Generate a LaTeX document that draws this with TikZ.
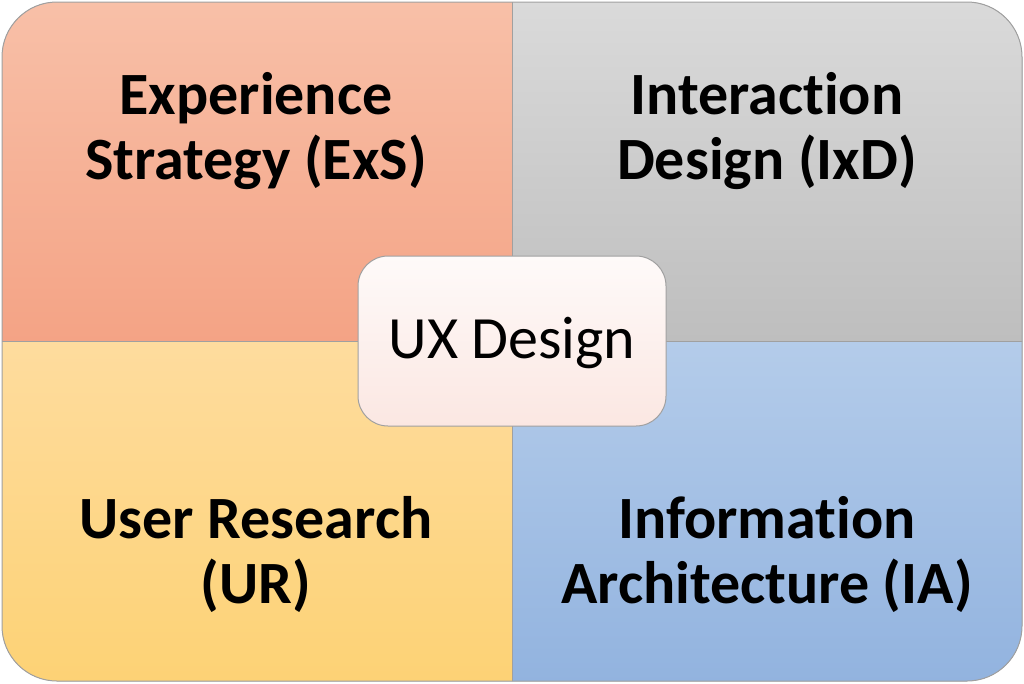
\documentclass[tikz,border=0pt]{standalone}
\usepackage{fontspec}
\setmainfont[Ligatures=CommonOff]{Carlito}
\definecolor{tlTop}{HTML}{F8C0A8}
\definecolor{tlBot}{HTML}{F4A385}
\definecolor{trTop}{HTML}{DADADA}
\definecolor{trBot}{HTML}{BEBEBE}
\definecolor{blTop}{HTML}{FEDC9E}
\definecolor{blBot}{HTML}{FDD275}
\definecolor{brTop}{HTML}{B4CCEA}
\definecolor{brBot}{HTML}{92B3DF}
\definecolor{cTop}{HTML}{FEFAF9}
\definecolor{cBot}{HTML}{FBE7E2}
\definecolor{edge}{HTML}{A0A0A0}
\tikzset{
  quadtext/.style={font=\fontsize{60}{65}\selectfont\bfseries, align=center, text=black},
  centerbox/.style={draw=edge, line width=1pt, rounded corners=30pt, top color=cTop, bottom color=cBot}
}
\begin{document}
\begin{tikzpicture}[x=1pt,y=-1pt]
\useasboundingbox (0,0) rectangle (1024,683);
\begin{scope}
  \clip[rounded corners=55pt] (2,2) rectangle (1022,681);
  \fill[top color=tlTop, bottom color=tlBot] (0,0) rectangle (512,341);
  \fill[top color=trTop, bottom color=trBot] (512,0) rectangle (1024,341);
  \fill[top color=blTop, bottom color=blBot] (0,341) rectangle (512,683);
  \fill[top color=brTop, bottom color=brBot] (512,341) rectangle (1024,683);
  \draw[edge, line width=0.8pt] (512,0) -- (512,683);
  \draw[edge, line width=0.8pt] (0,341) -- (1024,341);
\end{scope}
\draw[edge, line width=1pt, rounded corners=55pt] (2,2) rectangle (1022,681);
\node[quadtext] (exs) at (256,131) {Experience\\Strategy (ExS)};
\node[quadtext] (ixd) at (767,131) {Interaction\\Design (IxD)};
\node[quadtext] (ur) at (256,554) {User Research\\(UR)};
\node[quadtext] (ia) at (767,554) {Information\\Architecture (IA)};
\draw[centerbox] (358,256) rectangle (666,426);
\node[font=\fontsize{60}{65}\selectfont, text=black] (ux) at (512,343) {UX Design};
\end{tikzpicture}
\end{document}
